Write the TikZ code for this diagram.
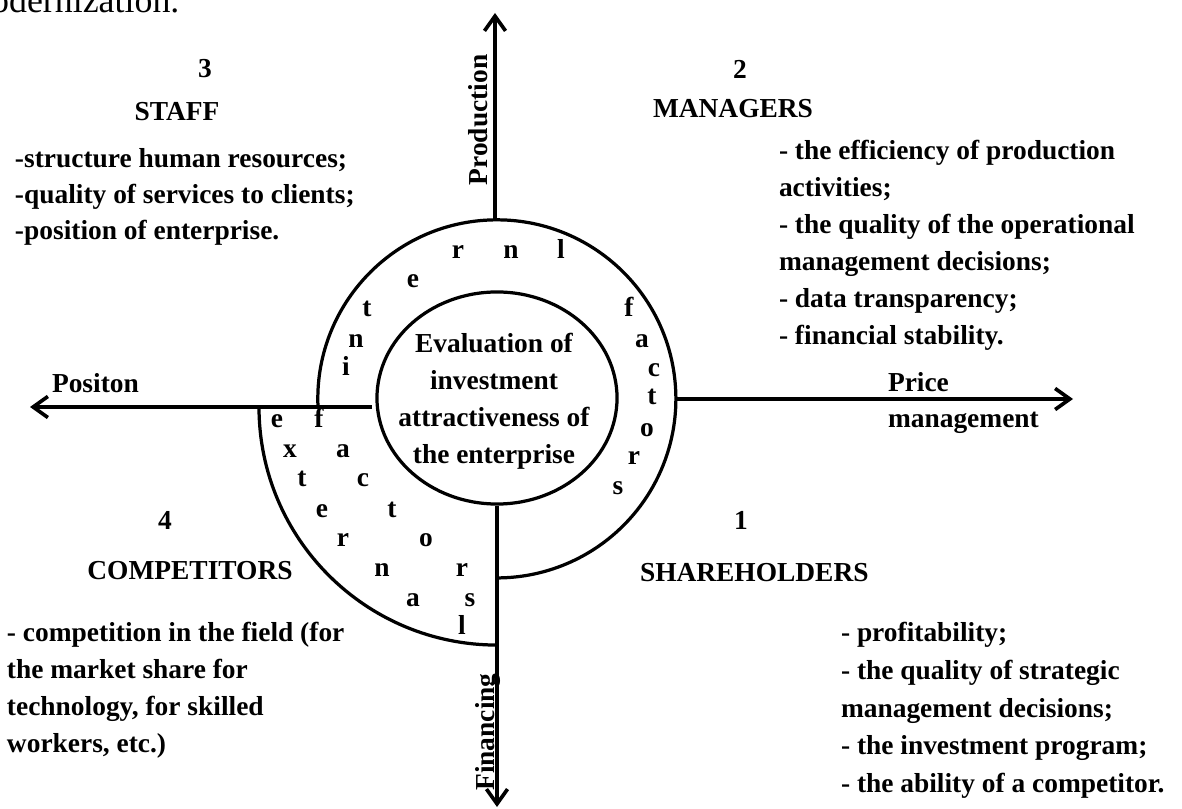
\documentclass[tikz,border=0pt]{standalone}
\usepackage{fontspec}
\setmainfont{Liberation Serif}
\usetikzlibrary{shapes.geometric,arrows.meta}
\begin{document}
\begin{tikzpicture}[x=0.025cm,y=0.025cm,
  txt/.style={font=\fontsize{19.5}{26.3}\selectfont\bfseries, inner sep=0pt, outer sep=0pt},
  lett/.style={txt, anchor=base},
  row/.style={txt, anchor=base west},
  ring/.style={line width=2.3pt},
  arr/.style={line width=2.6pt, -{Straight Barb[length=10.5pt,width=15pt]}},
]
\path[use as bounding box, fill=white] (0,0) rectangle (1182,808);

% cut-off text at the top
\node[font=\fontsize{25.5}{30}\selectfont, inner sep=0pt, anchor=base west] (topline) at (-37,795) {modernization.};

% central ellipse and its text
\node[draw, ring, ellipse, minimum width=6cm, minimum height=5.3cm, inner sep=0pt] (eval) at (497,410) {};
\node[txt, align=center] (evaltxt) at (494,407) {Evaluation of\\investment\\attractiveness of\\the enterprise};

% rings
\coordinate (ringL) at (318,401);
\draw[ring] (ringL) arc[start angle=182.6, end angle=-90, radius=4.475cm];
\coordinate (extL) at (259,401);
\draw[ring] (extL) arc[start angle=180, end angle=270, radius=5.95cm];

% axes
\coordinate (prodS) at (495,588);
\coordinate (prodE) at (495,795);
\draw[arr] (prodS) -- (prodE);
\coordinate (finE) at (497,1);
\draw[arr] (eval.south) -- (finE);
\coordinate (priceS) at (677,409);
\coordinate (priceE) at (1073,409);
\draw[arr] (priceS) -- (priceE);
\coordinate (posS) at (372,401);
\coordinate (posE) at (30,401);
\draw[arr] (posS) -- (posE);

% axis labels
\node[txt, anchor=base, rotate=90] (prod) at (487,688) {Production};
\node[txt, anchor=base, rotate=90] (fin) at (494,76) {Financing};
\node[row] (price1) at (888,416) {Price};
\node[row] (price2) at (888,380) {management};
\node[row] (pos) at (52,415) {Positon};

% internal factors
\foreach \c/\x/\y [count=\k] in {i/346/432, n/356/460, t/367/491, e/413/520, r/458/549, n/511/549, l/561/549,
  f/629/491, a/642/460, c/654/431, t/652/403, o/647/371, r/634/343, s/618/313}
  \node[lett] (in\k) at (\x,\y) {\c};

% external factors
\foreach \c/\x/\y [count=\k] in {e/277/380, x/290/350, t/302/321, e/322/290, r/343/261, n/382/231, a/413/201, l/462/173,
  f/319/380, a/343/350, c/363/321, t/392/290, o/426/261, r/462/231, s/470/201}
  \node[lett] (ex\k) at (\x,\y) {\c};

% STAFF
\node[lett] (n3) at (205,730) {3};
\node[lett] (staff) at (177,687) {STAFF};
\foreach \t [count=\k] in {{-structure human resources;},{-quality of services to clients;},{-position of enterprise.}}
  \node[row] (staff\k) at (15,676-36*\k) {\t};

% MANAGERS
\node[lett] (n2) at (740,729) {2};
\node[row] (mgr) at (653,690) {MANAGERS};
\foreach \t [count=\k] in {{- the efficiency of production},{activities;},{- the quality of the operational},{management decisions;},{- data transparency;},{- financial stability.}}
  \node[row] (mgr\k) at (779,685-37*\k) {\t};

% SHAREHOLDERS
\node[lett] (n1) at (741,278) {1};
\node[row] (sh) at (640,226) {SHAREHOLDERS};
\foreach \t [count=\k] in {{- profitability;},{- the quality of strategic},{management decisions;},{- the investment program;},{- the ability of a competitor.}}
  \node[row] (sh\k) at (841,204-37.75*\k) {\t};

% COMPETITORS
\node[lett] (n4) at (165,278) {4};
\node[lett] (comp) at (190,228) {COMPETITORS};
\foreach \t [count=\k] in {{- competition in the field (for},{the market share for},{technology, for skilled},{workers, etc.)}}
  \node[row] (comp\k) at (7,203-37*\k) {\t};
\end{tikzpicture}
\end{document}
